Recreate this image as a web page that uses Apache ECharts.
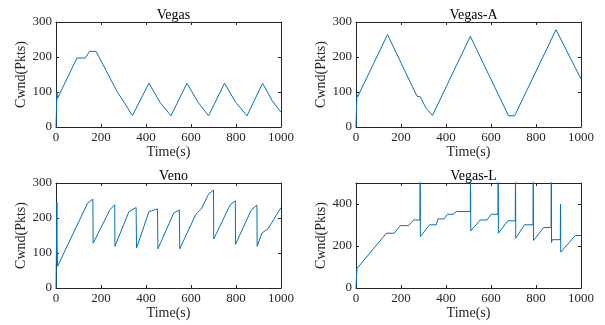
<!DOCTYPE html>
<html>
<head>
<meta charset="utf-8">
<script src="https://cdn.jsdelivr.net/npm/echarts@6/dist/echarts.min.js"></script>
<style>
  html, body { margin: 0; padding: 0; background: #fff; }
  #chart { width: 605px; height: 325px; }
</style>
</head>
<body>
<div id="chart"></div>
<script>
// panel titles, in grid order (TL, TR, BL, BR)
const titles = ["Vegas", "Vegas-A", "Veno", "Vegas-L"];

// congestion window traces, breakpoints
const vegasT = [0, 3, 4, 7, 93, 130, 149, 178, 270, 340, 413, 463, 511, 582, 632, 678, 749, 799, 849, 918, 960, 1000];
const vegasY = [0, 0, 99, 82, 197, 197, 216, 216, 103, 33, 125, 70, 32, 125, 70, 32, 125, 70, 32, 125, 76, 42];

const vegasAT = [0, 3, 4, 7, 140, 271, 286, 312, 340, 508, 678, 705, 889, 1000];
const vegasAY = [0, 0, 93, 86, 264, 88, 86, 53, 33, 259, 32, 32, 278, 137];

const venoT = [0, 3, 4, 5, 7, 140, 164, 165, 240, 261, 262, 324, 356, 358, 413, 451, 453, 523, 548, 550,
  622, 646, 678, 700, 701, 775, 797, 798, 868, 893, 894, 915, 942, 1000];
const venoY = [0, 0, 245, 120, 62, 242, 254, 128, 224, 238, 119, 218, 230, 114, 218, 226, 112, 214, 223, 112,
  211, 226, 268, 280, 140, 239, 249, 125, 223, 237, 119, 157, 169, 230];

const vegasLT = [0, 3, 4, 6, 135, 170, 197, 234, 256, 284, 285, 286, 327, 357, 364, 391, 406, 431, 446, 508,
  509, 510, 552, 582, 601, 631, 632, 633, 675, 708, 709, 710, 749, 787, 788, 789, 834, 867, 868, 869,
  872, 908, 909, 910, 975, 1000];
const vegasLY = [0, 0, 92, 88, 261, 261, 297, 297, 324, 324, 600, 245, 301, 301, 329, 329, 351, 351, 364, 364,
  600, 272, 324, 324, 351, 351, 600, 261, 320, 320, 600, 237, 301, 301, 600, 226, 288, 288, 600, 217,
  230, 230, 399, 171, 250, 250];

const traces = [[vegasT, vegasY], [vegasAT, vegasAY], [venoT, venoY], [vegasLT, vegasLY]];
const yMax = [300, 300, 300, 500];
const yStep = [100, 100, 100, 200];

const FONT = "Liberation Serif";
const INK = "#262626";
const grids = [
  { left: 56, top: 22, width: 225, height: 105 },
  { left: 356, top: 22, width: 225, height: 105 },
  { left: 56, top: 183, width: 225, height: 105 },
  { left: 356, top: 183, width: 225, height: 105 }
];

const chart = echarts.init(document.getElementById("chart"), null, { renderer: "canvas" });

const xAxes = [], yAxes = [], series = [], titleOpts = [];
grids.forEach((g, i) => {
  const tick = { show: true, inside: true, length: 3, lineStyle: { color: INK, width: 1 } };
  const line = { show: true, onZero: false, lineStyle: { color: INK, width: 1 } };
  // main bottom / left axes
  xAxes.push({
    gridIndex: i, type: "value", min: 0, max: 1000, interval: 200,
    axisLine: line, axisTick: tick, splitLine: { show: false },
    axisLabel: { color: INK, fontFamily: FONT, fontSize: 13, margin: 4, formatter: v => String(v) },
    name: "Time(s)", nameLocation: "middle", nameGap: 17,
    nameTextStyle: { color: INK, fontFamily: FONT, fontSize: 14 }
  });
  yAxes.push({
    gridIndex: i, type: "value", min: 0, max: yMax[i], interval: yStep[i],
    axisLine: line, axisTick: tick, splitLine: { show: false },
    axisLabel: {
      color: INK, fontFamily: FONT, fontSize: 13, margin: 4,
      formatter: v => (v % yStep[i] === 0 ? String(v) : "")
    },
    name: "Cwnd(Pkts)", nameLocation: "middle", nameGap: 27,
    nameTextStyle: { color: INK, fontFamily: FONT, fontSize: 14 }
  });
  titleOpts.push({
    text: titles[i], left: g.left + g.width / 2, top: g.top - 19, textAlign: "center",
    textStyle: { color: "#000", fontFamily: FONT, fontSize: 14, fontWeight: "normal" }
  });
  const data = traces[i][0].map((t, k) => [t, traces[i][1][k]]);
  series.push({
    type: "line", xAxisIndex: i, yAxisIndex: i, data: data,
    showSymbol: false, symbol: "none", clip: true, animation: false,
    lineStyle: { color: "#0072BD", width: 1 }
  });
});
// mirrored top / right axes for the MATLAB box look
grids.forEach((g, i) => {
  const tick = { show: true, inside: true, length: 3, lineStyle: { color: INK, width: 1 } };
  const line = { show: true, onZero: false, lineStyle: { color: INK, width: 1 } };
  xAxes.push({
    gridIndex: i, type: "value", position: "top", min: 0, max: 1000, interval: 200,
    axisLine: line, axisTick: tick, axisLabel: { show: false }, splitLine: { show: false }
  });
  yAxes.push({
    gridIndex: i, type: "value", position: "right", min: 0, max: yMax[i], interval: yStep[i],
    axisLine: line, axisTick: tick, axisLabel: { show: false }, splitLine: { show: false }
  });
});

chart.setOption({
  animation: false,
  textStyle: { fontFamily: FONT },
  title: titleOpts,
  grid: grids,
  xAxis: xAxes,
  yAxis: yAxes,
  series: series
});
</script>
</body>
</html>
